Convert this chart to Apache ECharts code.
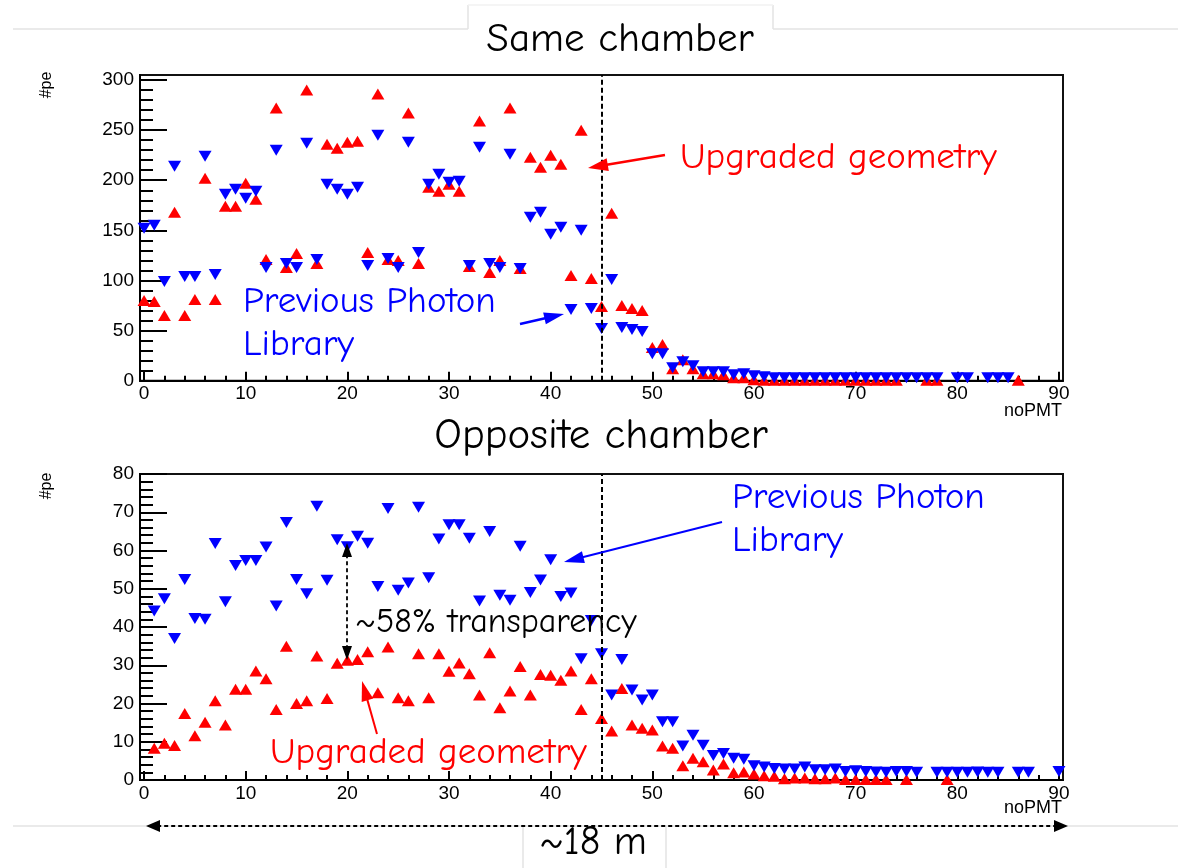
<!DOCTYPE html>
<html>
<head>
<meta charset="utf-8">
<script src="https://cdn.jsdelivr.net/npm/echarts@6/dist/echarts.min.js"></script>
<style>html,body{margin:0;padding:0;background:#fff;}#c{width:1178px;height:868px;}</style>
</head>
<body>
<div id="c"></div>
<script>
// ---------- DATA (index = noPMT) ----------
const sameUpgraded = [80,79,65,168,65,81,202,81,174,174,197,181,121,272,113,127,290,117,236,232,238,239,128,286,121,120,267,117,193,189,196,189,114,259,108,120,272,112,223,213,225,216,105,250,102,74,167,75,72,70,33,36,12,21,12,7,7,6,3,3,1,0.5,0.5,0.5,0.5,0.5,0.5,0.5,0.5,0.5,0.5,0.5,0.5,0.5,0.5,null,null,0.5,0.5,null,null,null,null,null,null,null,0.5];
const samePrevious = [152,155,99,214,104,104,224,106,186,191,182,189,113,230,117,113,237,121,196,191,186,193,115,245,122,113,238,128,196,206,198,199,115,233,117,113,226,112,163,168,146,153,71,150,72,52,101,53,51,49,27,27,13,19,15,9,9,9,6,7,5,4,3,3,3,3,3,3,3,3,3,3,3,3,3,3,3,3,3,null,3,3,null,3,3,3];
const oppPrevious = [null,44.2,47.4,37,52.4,42.2,42,61.8,46.6,56.1,57.4,57.4,60.9,45.5,67.3,52.4,48.7,71.6,52.2,62.8,61,63.7,61.9,50.6,71,49.6,51.5,71.3,52.9,63,66.7,66.7,63.2,46.8,65,48.3,47,61.1,49,52.3,57.6,48,48.9,31.7,41.7,33,22.2,31.5,23.5,20.9,22.2,15.2,15.2,8.9,11.7,9.1,6.4,6.9,5.7,5.4,3.7,3.4,3,2.9,2.9,3.4,2.7,2.7,2.9,2.2,2.4,2.2,2.1,2,2.2,2.2,2,null,2,2,2,2,2.1,2,2,null,2,2,null,null,2.2];
const oppUpgraded = [null,8.3,9.6,9,17.4,11.6,15.1,20.7,14.4,23.7,23.7,28.5,26.5,18.4,35,20,20.7,32.4,21.3,30.5,31.3,31.5,33.5,22.8,34.8,21.5,20.7,33,21.5,33,28.4,30.6,27.8,22.2,33.3,18.9,23.3,29.7,22.2,27.6,27.4,26.1,28.5,18.4,26.5,16.1,12.8,23.9,14.4,13.5,13.1,8.9,8.3,3.7,5.7,4.8,2.6,4.2,1.9,2.1,1.6,1.1,1,0.3,0.5,0.5,0.3,0.3,0.5,0.1,0.1,0.1,0.1,0.1,null,0.1,null,null,null,0.1];

const xMajorTicks = [0,10,20,30,40,50,60,70,80,90];
const xMinorTicks = Array.from({length:46},(_,i)=>i*2);
const yTopMajor = [0,50,100,150,200,250,300];
const yTopMinor = Array.from({length:31},(_,i)=>i*10);
const yBotMajor = [0,10,20,30,40,50,60,70,80];
const yBotMinor = Array.from({length:41},(_,i)=>i*2);
const dividerX = 45;

// ---------- STYLE ----------
const FONT_C = '"Comic Sans MS","Comic Neue","DejaVu Sans",sans-serif';
const FONT_H = '"Liberation Sans",Arial,Helvetica,sans-serif';
const RED = '#ff0000', BLUE = '#0000ff';

const toPairs = arr => arr.map((v,i)=> v==null ? null : [i,v]).filter(p=>p);

function xAxes(grid){
  return [
    {gridIndex:grid, type:'value', position:'bottom', min:-0.4, max:90.4,
     axisLine:{show:true, onZero:false, lineStyle:{color:'#000', width:2}},
     axisTick:{show:true, inside:true, length:9, customValues:xMajorTicks, lineStyle:{color:'#000', width:2}},
     axisLabel:{show:true, customValues:xMajorTicks, margin:4, fontSize:19, color:'#000', fontFamily:FONT_H},
     splitLine:{show:false}},
    {gridIndex:grid, type:'value', position:'bottom', min:-0.4, max:90.4,
     axisLine:{show:false, onZero:false},
     axisTick:{show:true, inside:true, length:5, customValues:xMinorTicks, lineStyle:{color:'#000', width:2}},
     axisLabel:{show:false}, splitLine:{show:false}}
  ];
}
function yAxes(grid, max, major, minor){
  return [
    {gridIndex:grid, type:'value', position:'left', min:0, max:max,
     axisLine:{show:true, onZero:false, lineStyle:{color:'#000', width:2}},
     axisTick:{show:true, inside:true, length:27, customValues:major, lineStyle:{color:'#000', width:2}},
     axisLabel:{show:true, customValues:major, margin:6, fontSize:19, color:'#000', fontFamily:FONT_H},
     splitLine:{show:false}},
    {gridIndex:grid, type:'value', position:'left', min:0, max:max,
     axisLine:{show:false, onZero:false},
     axisTick:{show:true, inside:true, length:13, customValues:minor, lineStyle:{color:'#000', width:2}},
     axisLabel:{show:false}, splitLine:{show:false}}
  ];
}
function scatter(name, data, xi, yi, color, down, withLine){
  const s = {name, type:'scatter', xAxisIndex:xi, yAxisIndex:yi, data:toPairs(data),
    symbol:'triangle', symbolSize:[13,11], symbolRotate: down?180:0, clip:false,
    itemStyle:{color:color, opacity:1}, z: down?3:2};
  if (withLine) {
    s.markLine = {silent:true, symbol:['none','none'], label:{show:false},
      lineStyle:{color:'#000', type:[5,3], width:2}, data:[{xAxis:dividerX}]};
  }
  return s;
}

function arrow(x1,y1,x2,y2,color,width,dashed,hl,hw,both){
  const els = [];
  const dx=x2-x1, dy=y2-y1, L=Math.hypot(dx,dy), ux=dx/L, uy=dy/L;
  const head=(tx,ty,ax,ay)=>({type:'polygon', shape:{points:[[tx,ty],[tx-ax*hl-ay*hw/2, ty-ay*hl+ax*hw/2],[tx-ax*hl+ay*hw/2, ty-ay*hl-ax*hw/2]]}, style:{fill:color}, z:50});
  const sx = both ? x1+ux*hl*0.8 : x1, sy = both ? y1+uy*hl*0.8 : y1;
  els.push({type:'line', shape:{x1:sx,y1:sy,x2:x2-ux*hl*0.8,y2:y2-uy*hl*0.8}, style:{stroke:color, lineWidth:width, lineDash: dashed?[4,3]:null}, z:50});
  els.push(head(x2,y2,ux,uy));
  if (both) els.push(head(x1,y1,-ux,-uy));
  return els;
}
function txt(x,y,text,size,color,font,align){
  return {type:'text', z:60, style:{x:x, y:y, text:text, fontSize:size, fill:color, fontFamily:font, textAlign:align||'left', textVerticalAlign:'middle'}};
}
function vtxt(x,y,text,size){
  return {type:'text', z:60, x:x, y:y, rotation:Math.PI/2, style:{x:0, y:0, text:text, fontSize:size, fill:'#000', fontFamily:FONT_H, textAlign:'center', textVerticalAlign:'middle'}};
}
function gline(x1,y1,x2,y2,c){ return {type:'line', z:1, shape:{x1,y1,x2,y2}, style:{stroke:c||'#e3e3e3', lineWidth:1.5}}; }

const graphics = [
  gline(13,29,468,29), gline(773,29,1178,29), gline(468,5,468,29), gline(773,5,773,29), gline(468,5,773,5,'#f2f2f2'),
  gline(13,826,1178,826), gline(523,826,523,868), gline(666,826,666,868),
  txt(620,39,'Same chamber',41,'#000',FONT_C,'center'),
  txt(601,436,'Opposite chamber',43,'#000',FONT_C,'center'),
  txt(680,158,'Upgraded geometry',37,RED,FONT_C,'left'),
  txt(243,302,'Previous Photon',37,BLUE,FONT_C,'left'),
  txt(243,345,'Library',37,BLUE,FONT_C,'left'),
  txt(732,498,'Previous Photon',37,BLUE,FONT_C,'left'),
  txt(732,541,'Library',37,BLUE,FONT_C,'left'),
  txt(355,622,'~58% transparency',34,'#000',FONT_C,'left'),
  txt(270,753,'Upgraded geometry',37,RED,FONT_C,'left'),
  txt(593,843,'~18 m',40,'#000',FONT_C,'center'),
  txt(1062,411,'noPMT',18,'#000',FONT_H,'right'),
  txt(1062,808,'noPMT',18,'#000',FONT_H,'right'),
  vtxt(47,85,'#pe',16),
  vtxt(47,486,'#pe',16),
  ...arrow(665,155,588,168,RED,2.5,false,20,13,false),
  ...arrow(520,324,564,314,BLUE,2.5,false,20,12,false),
  ...arrow(722,522,564,562,BLUE,2,false,20,12,false),
  ...arrow(377,734,362,681,RED,2,false,20,12,false),
  ...arrow(347,543,347,660,'#000',1.8,true,14,10,true),
  ...arrow(146,826,1068,826,'#000',2,true,14,12,true)
];

const chart = echarts.init(document.getElementById('c'), null, {renderer:'canvas'});
chart.setOption({
  backgroundColor:'#fff',
  animation:false,
  grid:[
    {left:140, width:923, top:75, height:305.7, show:true, borderColor:'#111', borderWidth:2, containLabel:false},
    {left:140, width:923, top:474, height:306, show:true, borderColor:'#111', borderWidth:2, containLabel:false}
  ],
  xAxis:[...xAxes(0), ...xAxes(1)],
  yAxis:[...yAxes(0,305,yTopMajor,yTopMinor), ...yAxes(1,80,yBotMajor,yBotMinor)],
  series:[
    scatter('Upgraded geometry', sameUpgraded, 0, 0, RED, false, true),
    scatter('Previous Photon Library', samePrevious, 0, 0, BLUE, true, false),
    scatter('Upgraded geometry', oppUpgraded, 2, 2, RED, false, true),
    scatter('Previous Photon Library', oppPrevious, 2, 2, BLUE, true, false)
  ],
  graphic:{elements:graphics}
});
</script>
</body>
</html>
